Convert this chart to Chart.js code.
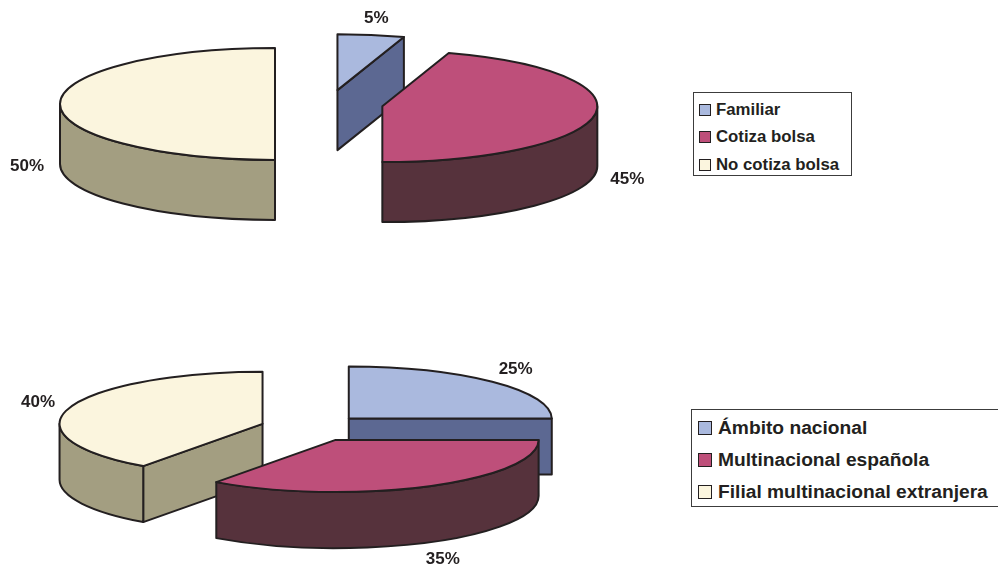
<!DOCTYPE html>
<html>
<head>
<meta charset="utf-8">
<script src="https://cdn.jsdelivr.net/npm/chart.js@4/dist/chart.umd.min.js"></script>
<style>
  html, body { margin: 0; padding: 0; background: #fff; }
  body { width: 998px; height: 572px; overflow: hidden; position: relative;
         font-family: "Liberation Sans", Arial, sans-serif; }
  canvas.pie { position: absolute; left: 0; top: 0; }
  .legend { position: absolute; box-sizing: border-box; border: 1.5px solid #3c3c3c;
            background: #fff; color: #231F20; font-weight: bold; }
  .legend .row { position: absolute; display: flex; align-items: center; white-space: nowrap; }
  .legend .sw { box-sizing: border-box; border: 1.5px solid #231F20; flex: none; }
  #legendA { left: 693px; top: 92px; width: 159px; height: 84px; font-size: 16.8px; }
  #legendB { left: 691px; top: 409px; width: 330px; height: 98px; font-size: 19.2px; }
</style>
</head>
<body>
<canvas id="pieA" class="pie" width="998" height="572"></canvas>
<canvas id="pieB" class="pie" width="998" height="572"></canvas>
<div id="legendA" class="legend"></div>
<div id="legendB" class="legend"></div>
<script>
// Ownership structure
const ownershipLabels = ['Familiar', 'Cotiza bolsa', 'No cotiza bolsa'];
const ownershipValues = [5, 45, 50];

// Geographic scope
const scopeLabels = ['Ámbito nacional', 'Multinacional española', 'Filial multinacional extranjera'];
const scopeValues = [25, 35, 40];

// Face colours (top) and wall colours (sides)
const topColors  = ['#AAB9DE', '#BE4F7A', '#FBF5DE'];
const sideColors = ['#5C6892', '#56323C', '#A39E81'];

// Draws each arc as an extruded, tilted wedge instead of the flat default
const pie3d = {
  id: 'pie3d',
  beforeDatasetsDraw(chart, args, opts) {
    const ctx = chart.ctx;
    const meta = chart.getDatasetMeta(0);
    const ds = chart.data.datasets[0];
    const depth = opts.depth;
    const slices = meta.data.map((arc, i) => {
      const p = arc.getProps(['x', 'y', 'startAngle', 'endAngle', 'outerRadius'], true);
      const off = arc.options.offset || 0;
      const mid = (p.startAngle + p.endAngle) / 2;
      const rx = p.outerRadius, ry = rx * opts.tilt;
      return {
        i, rx, ry, mid, a0: p.startAngle, a1: p.endAngle,
        cx: p.x + Math.cos(mid) * off,
        cy: p.y + Math.sin(mid) * off * opts.tilt
      };
    });
    chart.$slices3d = slices.slice();
    // back-to-front
    slices.sort((a, b) => Math.sin(a.mid) - Math.sin(b.mid));

    ctx.save();
    ctx.lineWidth = opts.lineWidth;
    ctx.strokeStyle = opts.lineColor;
    ctx.lineJoin = 'round';
    const pt = (s, a, dz) => [s.cx + s.rx * Math.cos(a), s.cy + s.ry * Math.sin(a) + (dz || 0)];
    const quad = (s, a, color) => {
      const e = pt(s, a);
      ctx.beginPath();
      ctx.moveTo(s.cx, s.cy);
      ctx.lineTo(e[0], e[1]);
      ctx.lineTo(e[0], e[1] + depth);
      ctx.lineTo(s.cx, s.cy + depth);
      ctx.closePath();
      ctx.fillStyle = color;
      ctx.fill();
      ctx.stroke();
    };
    for (const s of slices) {
      const side = ds.sideColor[s.i];
      const top = ds.backgroundColor[s.i];
      // radial cut faces that face the viewer
      if (Math.cos(s.a0) < -1e-6) quad(s, s.a0, side);
      if (Math.cos(s.a1) > 1e-6) quad(s, s.a1, side);
      // outer wall: only the front half of the rim is visible
      for (let k = -1; k <= 1; k++) {
        const b0 = Math.max(s.a0, 2 * Math.PI * k);
        const b1 = Math.min(s.a1, Math.PI + 2 * Math.PI * k);
        if (b1 - b0 < 1e-6) continue;
        const e1 = pt(s, b1);
        ctx.beginPath();
        ctx.ellipse(s.cx, s.cy, s.rx, s.ry, 0, b0, b1, false);
        ctx.lineTo(e1[0], e1[1] + depth);
        ctx.ellipse(s.cx, s.cy + depth, s.rx, s.ry, 0, b1, b0, true);
        ctx.closePath();
        ctx.fillStyle = side;
        ctx.fill();
        ctx.stroke();
      }
      // top face
      ctx.beginPath();
      ctx.moveTo(s.cx, s.cy);
      ctx.ellipse(s.cx, s.cy, s.rx, s.ry, 0, s.a0, s.a1, false);
      ctx.closePath();
      ctx.fillStyle = top;
      ctx.fill();
      ctx.stroke();
    }
    ctx.restore();
    return false;
  },
  afterDraw(chart, args, opts) {
    const slices = chart.$slices3d;
    if (!slices) return;
    const ctx = chart.ctx;
    const values = chart.data.datasets[0].data;
    const total = values.reduce((a, b) => a + b, 0);
    ctx.save();
    ctx.font = opts.labelFont;
    ctx.fillStyle = opts.lineColor;
    ctx.textAlign = 'center';
    ctx.textBaseline = 'middle';
    for (const s of slices) {
      const c = Math.cos(s.mid), sn = Math.sin(s.mid);
      const x = s.cx + (s.rx + opts.labelPadX) * c;
      const y = s.cy + (s.ry + opts.labelPadY) * sn + (sn > -0.1 ? opts.depth + 2 : 0);
      ctx.fillText(Math.round(values[s.i] / total * 100) + '%', x, y);
    }
    ctx.restore();
  }
};

function makePie(id, labels, values, cfg) {
  return new Chart(document.getElementById(id), {
    type: 'pie',
    data: {
      labels,
      datasets: [{
        data: values,
        backgroundColor: topColors,
        sideColor: sideColors,
        borderWidth: 0,
        offset: cfg.explode,
        radius: cfg.radius
      }]
    },
    options: {
      responsive: false,
      animation: false,
      events: [],
      layout: { padding: cfg.padding },
      plugins: {
        legend: { display: false },
        tooltip: { enabled: false },
        pie3d: {
          tilt: cfg.tilt, depth: cfg.depth,
          lineWidth: 2, lineColor: '#231F20',
          labelFont: 'bold 17px "Liberation Sans", Arial, sans-serif',
          labelPadX: 33, labelPadY: 17
        }
      }
    },
    plugins: [pie3d]
  });
}

makePie('pieA', ownershipLabels, ownershipValues, {
  radius: 215, tilt: 0.26, depth: 60, explode: 54,
  padding: { left: 0, top: 0, right: 340, bottom: 364 }
});
makePie('pieB', scopeLabels, scopeValues, {
  radius: 203, tilt: 0.257, depth: 56, explode: 52,
  padding: { left: 0, top: 284, right: 374, bottom: 0 }
});

function buildLegend(id, labels, rows) {
  const box = document.getElementById(id);
  labels.forEach((label, i) => {
    const row = document.createElement('div');
    row.className = 'row';
    row.style.left = rows.left + 'px';
    row.style.top = (rows.first + i * rows.step - rows.lineH / 2) + 'px';
    row.style.height = rows.lineH + 'px';
    const sw = document.createElement('span');
    sw.className = 'sw';
    sw.style.width = rows.sw + 'px';
    sw.style.height = rows.sw + 'px';
    sw.style.background = topColors[i];
    sw.style.marginRight = rows.gap + 'px';
    const tx = document.createElement('span');
    tx.textContent = label;
    row.appendChild(sw);
    row.appendChild(tx);
    box.appendChild(row);
  });
}
buildLegend('legendA', ownershipLabels, { left: 5, first: 16.5, step: 27.5, lineH: 20, sw: 12, gap: 5 });
buildLegend('legendB', scopeLabels, { left: 6, first: 18, step: 32, lineH: 24, sw: 14, gap: 6 });
</script>
</body>
</html>
